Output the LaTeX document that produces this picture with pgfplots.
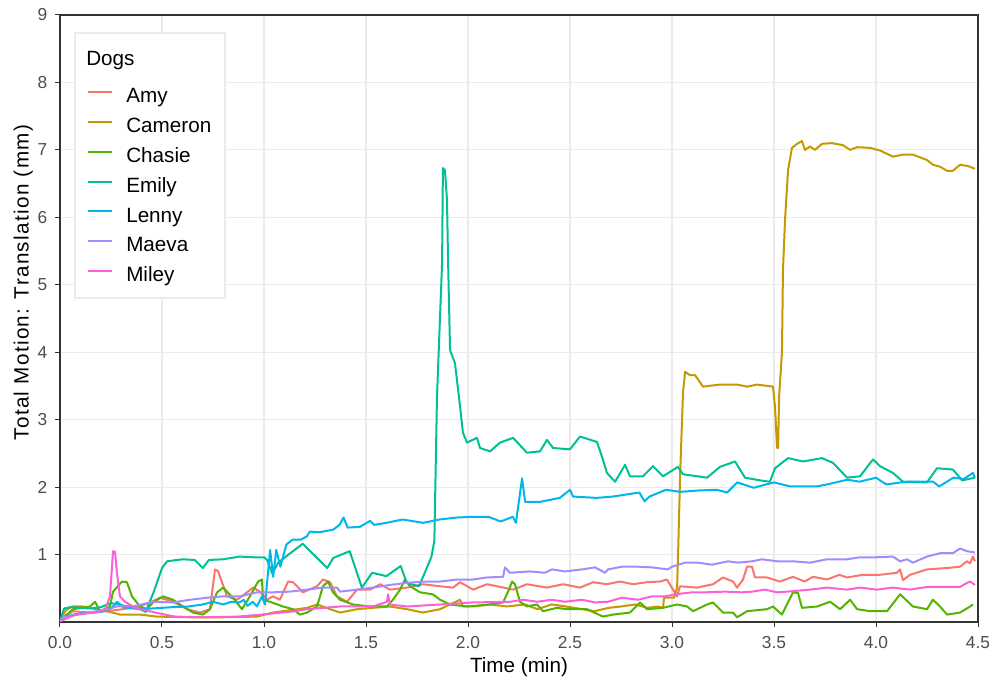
\documentclass[border=0pt]{standalone}
\usepackage{fontspec}
\setmainfont{Liberation Sans}
\newfontfamily\ylabfont[LetterSpace=6.5]{Liberation Sans}
\usepackage{pgfplots}
\pgfplotsset{compat=1.18}

% ggplot hue palette, 7 dogs
\definecolor{amy}{HTML}{F8766D}
\definecolor{cameron}{HTML}{C49A00}
\definecolor{chasie}{HTML}{53B400}
\definecolor{emily}{HTML}{00C094}
\definecolor{lenny}{HTML}{00B6EB}
\definecolor{maeva}{HTML}{A58AFF}
\definecolor{miley}{HTML}{FB61D7}
\definecolor{frame}{HTML}{333333}
\definecolor{gridc}{HTML}{EBEBEB}
\definecolor{tickc}{HTML}{4D4D4D}

\begin{document}
\begin{tikzpicture}
\useasboundingbox (-45pt,-42pt) rectangle (696.75pt,466.5pt);
\begin{axis}[
  at={(0,0)}, anchor=south west,
  scale only axis, width=688.5pt, height=455.25pt,
  xmin=0, xmax=4.5, ymin=0, ymax=9,
  xtick={0,0.5,...,4.5}, ytick={1,...,9},
  /pgf/number format/assume math mode=true,
  xticklabel style={/pgf/number format/fixed, /pgf/number format/fixed zerofill,
    /pgf/number format/precision=1, yshift=-4pt},
  tick label style={font=\fontsize{13}{15}\selectfont, text=tickc},
  yticklabel style={xshift=-2.5pt},
  tick pos=left, tick align=outside, major tick length=3.5pt,
  major tick style={draw=frame, line width=0.75pt},
  axis line style={draw=frame, line width=0.9pt},
  grid=major, major grid style={draw=gridc, line width=0.8pt},
  xlabel={Time (min)},
  ylabel={\ylabfont Total Motion: Translation (mm)},
  label style={font=\fontsize{15.5}{18}\selectfont},
  xlabel style={at={(axis description cs:0.5,-0.0824)}, anchor=base},
  ylabel style={at={(axis description cs:-0.0343,0.559)}, anchor=base},
  every axis plot/.append style={line width=1.5pt, line join=round},
]
\addplot[amy] coordinates {
(0,0.02) (0.03,0.1) (0.064,0.16) (0.147,0.14) (0.23,0.16) (0.309,0.19) (0.392,0.23) (0.441,0.29) (0.49,0.36) (0.554,0.3) (0.623,0.19) (0.686,0.14) (0.735,0.19) (0.76,0.78) (0.775,0.75) (0.794,0.59) (0.819,0.38) (0.868,0.33) (0.917,0.44) (0.946,0.51) (0.98,0.45) (1.015,0.33) (1.044,0.38) (1.078,0.33) (1.118,0.6) (1.142,0.59) (1.191,0.44) (1.26,0.53) (1.289,0.63) (1.324,0.59) (1.358,0.38) (1.407,0.3) (1.456,0.48) (1.52,0.48) (1.569,0.56) (1.618,0.48) (1.701,0.51) (1.779,0.56) (1.863,0.53) (1.926,0.51) (1.961,0.59) (2.025,0.48) (2.093,0.56) (2.142,0.53) (2.221,0.48) (2.289,0.56) (2.387,0.51) (2.466,0.56) (2.549,0.51) (2.613,0.59) (2.681,0.56) (2.745,0.6) (2.809,0.56) (2.877,0.59) (2.941,0.6) (2.975,0.63) (3.025,0.38) (3.039,0.53) (3.123,0.51) (3.201,0.56) (3.25,0.66) (3.299,0.6) (3.319,0.51) (3.348,0.63) (3.368,0.82) (3.392,0.82) (3.407,0.66) (3.466,0.66) (3.529,0.6) (3.593,0.67) (3.65,0.6) (3.691,0.67) (3.76,0.63) (3.82,0.7) (3.858,0.66) (3.936,0.7) (4.02,0.7) (4.103,0.73) (4.118,0.78) (4.132,0.62) (4.167,0.7) (4.25,0.78) (4.348,0.8) (4.412,0.82) (4.446,0.9) (4.461,0.87) (4.475,0.97) (4.485,0.9)
};

\addplot[cameron] coordinates {
(0,0.03) (0.03,0.18) (0.064,0.23) (0.11,0.23) (0.23,0.16) (0.294,0.11) (0.392,0.11) (0.475,0.08) (0.637,0.07) (0.799,0.07) (0.966,0.08) (1.044,0.14) (1.211,0.21) (1.26,0.26) (1.324,0.19) (1.373,0.14) (1.456,0.19) (1.534,0.21) (1.618,0.23) (1.701,0.19) (1.779,0.14) (1.863,0.19) (1.961,0.33) (1.975,0.23) (2.025,0.23) (2.108,0.26) (2.191,0.23) (2.28,0.26) (2.34,0.19) (2.41,0.26) (2.48,0.23) (2.56,0.19) (2.62,0.16) (2.69,0.21) (2.75,0.23) (2.82,0.26) (2.88,0.21) (2.93,0.23) (2.956,0.21) (2.961,0.36) (3.01,0.36) (3.025,0.51) (3.03,1.03) (3.04,2.2) (3.054,3.4) (3.064,3.71) (3.088,3.66) (3.113,3.66) (3.152,3.49) (3.235,3.52) (3.319,3.52) (3.368,3.49) (3.417,3.52) (3.495,3.49) (3.505,3.19) (3.515,2.58) (3.52,2.58) (3.525,3.34) (3.539,4.0) (3.544,5.22) (3.554,5.96) (3.569,6.7) (3.588,7.03) (3.618,7.1) (3.637,7.13) (3.652,7.0) (3.676,7.05) (3.701,7.0) (3.735,7.09) (3.784,7.1) (3.838,7.07) (3.873,7.0) (3.907,7.04) (3.971,7.03) (4.02,6.99) (4.083,6.9) (4.132,6.93) (4.181,6.93) (4.25,6.85) (4.279,6.78) (4.314,6.75) (4.348,6.69) (4.377,6.69) (4.412,6.78) (4.451,6.76) (4.485,6.72)
};

\addplot[chasie] coordinates {
(0,0.02) (0.064,0.19) (0.147,0.23) (0.172,0.3) (0.196,0.16) (0.245,0.23) (0.26,0.45) (0.304,0.6) (0.328,0.59) (0.353,0.38) (0.392,0.23) (0.426,0.19) (0.456,0.29) (0.505,0.38) (0.554,0.33) (0.603,0.23) (0.652,0.14) (0.701,0.11) (0.735,0.19) (0.77,0.44) (0.799,0.51) (0.848,0.36) (0.892,0.19) (0.931,0.38) (0.971,0.6) (0.99,0.63) (0.995,0.33) (1.029,0.3) (1.093,0.23) (1.142,0.19) (1.176,0.11) (1.211,0.14) (1.26,0.23) (1.289,0.53) (1.314,0.6) (1.338,0.44) (1.373,0.33) (1.436,0.26) (1.52,0.23) (1.603,0.23) (1.632,0.33) (1.667,0.48) (1.691,0.63) (1.716,0.53) (1.765,0.44) (1.828,0.41) (1.863,0.33) (1.912,0.26) (1.995,0.23) (2.108,0.26) (2.172,0.29) (2.201,0.48) (2.216,0.6) (2.23,0.56) (2.255,0.3) (2.289,0.23) (2.338,0.26) (2.368,0.16) (2.436,0.21) (2.485,0.19) (2.583,0.19) (2.662,0.08) (2.711,0.11) (2.794,0.14) (2.843,0.29) (2.877,0.19) (2.956,0.21) (3.025,0.26) (3.074,0.23) (3.103,0.16) (3.172,0.26) (3.201,0.29) (3.25,0.14) (3.299,0.14) (3.319,0.07) (3.368,0.16) (3.466,0.19) (3.495,0.23) (3.539,0.11) (3.593,0.44) (3.618,0.43) (3.637,0.21) (3.711,0.23) (3.775,0.3) (3.824,0.19) (3.873,0.33) (3.907,0.19) (3.971,0.16) (4.054,0.16) (4.118,0.41) (4.181,0.23) (4.25,0.19) (4.279,0.33) (4.314,0.23) (4.348,0.11) (4.412,0.14) (4.461,0.23) (4.475,0.26)
};

\addplot[emily] coordinates {
(0,0.02) (0.02,0.2) (0.05,0.22) (0.1,0.21) (0.15,0.2) (0.2,0.22) (0.25,0.28) (0.3,0.25) (0.35,0.22) (0.4,0.18) (0.42,0.15) (0.46,0.45) (0.5,0.8) (0.525,0.9) (0.6,0.93) (0.66,0.92) (0.7,0.8) (0.73,0.92) (0.8,0.93) (0.88,0.97) (0.95,0.96) (1.0,0.96) (1.015,0.92) (1.04,0.72) (1.07,0.88) (1.12,1.0) (1.19,1.16) (1.25,0.98) (1.31,0.8) (1.34,0.95) (1.42,1.05) (1.48,0.51) (1.53,0.73) (1.6,0.68) (1.67,0.83) (1.7,0.58) (1.76,0.53) (1.82,0.96) (1.835,1.2) (1.848,3.34) (1.873,5.33) (1.877,6.73) (1.887,6.7) (1.897,6.26) (1.902,5.4) (1.912,4.03) (1.936,3.84) (1.961,3.2) (1.975,2.81) (1.995,2.66) (2.044,2.73) (2.059,2.58) (2.108,2.53) (2.157,2.66) (2.221,2.73) (2.289,2.51) (2.353,2.53) (2.387,2.7) (2.417,2.58) (2.5,2.56) (2.549,2.75) (2.632,2.67) (2.657,2.45) (2.681,2.21) (2.721,2.08) (2.77,2.33) (2.794,2.16) (2.858,2.16) (2.907,2.31) (2.956,2.16) (3.029,2.3) (3.054,2.19) (3.172,2.14) (3.235,2.3) (3.309,2.38) (3.358,2.14) (3.431,2.1) (3.48,2.08) (3.505,2.28) (3.569,2.43) (3.642,2.38) (3.735,2.43) (3.789,2.36) (3.858,2.14) (3.922,2.16) (3.985,2.41) (4.02,2.31) (4.083,2.21) (4.132,2.08) (4.25,2.07) (4.299,2.28) (4.377,2.26) (4.422,2.1) (4.485,2.14)
};

\addplot[lenny] coordinates {
(0,0.02) (0.03,0.08) (0.08,0.12) (0.15,0.14) (0.2,0.15) (0.25,0.2) (0.28,0.3) (0.31,0.22) (0.36,0.2) (0.45,0.2) (0.55,0.22) (0.63,0.23) (0.7,0.26) (0.75,0.3) (0.8,0.26) (0.84,0.3) (0.88,0.29) (0.9,0.33) (0.92,0.24) (0.945,0.3) (0.965,0.23) (0.99,0.38) (1.005,0.26) (1.03,1.07) (1.045,0.67) (1.06,1.07) (1.08,0.82) (1.11,1.15) (1.14,1.22) (1.18,1.22) (1.21,1.27) (1.225,1.34) (1.27,1.33) (1.34,1.37) (1.37,1.44) (1.39,1.55) (1.41,1.4) (1.47,1.41) (1.52,1.5) (1.54,1.44) (1.6,1.47) (1.68,1.52) (1.78,1.47) (1.86,1.52) (1.95,1.55) (2.03,1.56) (2.1,1.56) (2.16,1.49) (2.22,1.56) (2.235,1.47) (2.265,2.13) (2.28,1.78) (2.35,1.78) (2.45,1.84) (2.5,1.96) (2.515,1.86) (2.63,1.84) (2.71,1.86) (2.84,1.92) (2.865,1.79) (2.89,1.86) (2.97,1.96) (3.04,1.93) (3.13,1.95) (3.22,1.96) (3.27,1.92) (3.32,2.07) (3.4,1.99) (3.5,2.07) (3.58,2.01) (3.71,2.01) (3.76,2.04) (3.86,2.11) (3.92,2.08) (4.0,2.14) (4.05,2.04) (4.15,2.08) (4.28,2.08) (4.31,2.01) (4.38,2.14) (4.43,2.12) (4.475,2.21) (4.485,2.14)
};

\addplot[maeva] coordinates {
(0,0.01) (0.015,0.07) (0.147,0.14) (0.23,0.19) (0.279,0.23) (0.358,0.23) (0.456,0.3) (0.554,0.29) (0.637,0.33) (0.721,0.36) (0.799,0.38) (0.882,0.38) (0.966,0.44) (1.044,0.44) (1.127,0.45) (1.211,0.48) (1.289,0.51) (1.358,0.51) (1.373,0.45) (1.456,0.48) (1.534,0.51) (1.618,0.55) (1.701,0.58) (1.779,0.6) (1.863,0.6) (1.946,0.63) (2.025,0.63) (2.093,0.66) (2.172,0.67) (2.181,0.81) (2.206,0.73) (2.304,0.75) (2.377,0.73) (2.412,0.78) (2.475,0.75) (2.559,0.78) (2.623,0.81) (2.672,0.73) (2.686,0.78) (2.755,0.82) (2.833,0.82) (2.902,0.81) (2.98,0.78) (3.0,0.82) (3.064,0.88) (3.127,0.88) (3.196,0.85) (3.275,0.9) (3.324,0.88) (3.392,0.9) (3.441,0.93) (3.515,0.9) (3.593,0.9) (3.676,0.88) (3.76,0.93) (3.858,0.93) (3.922,0.96) (4.005,0.96) (4.083,0.97) (4.118,0.9) (4.152,0.93) (4.181,0.88) (4.25,0.97) (4.314,1.02) (4.377,1.02) (4.412,1.09) (4.446,1.05) (4.485,1.03)
};

\addplot[miley] coordinates {
(0,0.01) (0.074,0.11) (0.172,0.14) (0.221,0.18) (0.245,0.38) (0.26,1.05) (0.27,1.04) (0.279,0.73) (0.294,0.38) (0.319,0.3) (0.368,0.21) (0.466,0.14) (0.564,0.08) (0.711,0.07) (0.873,0.08) (0.99,0.11) (1.152,0.16) (1.211,0.19) (1.373,0.23) (1.534,0.23) (1.603,0.3) (1.608,0.41) (1.618,0.26) (1.701,0.23) (1.863,0.26) (2.025,0.29) (2.206,0.3) (2.27,0.33) (2.34,0.3) (2.41,0.33) (2.475,0.3) (2.559,0.33) (2.623,0.29) (2.686,0.3) (2.755,0.36) (2.833,0.33) (2.902,0.38) (2.966,0.38) (3.015,0.41) (3.098,0.44) (3.162,0.44) (3.26,0.45) (3.343,0.44) (3.392,0.45) (3.456,0.48) (3.515,0.44) (3.564,0.45) (3.676,0.48) (3.76,0.51) (3.858,0.48) (3.922,0.51) (4.005,0.48) (4.083,0.51) (4.167,0.48) (4.25,0.52) (4.348,0.52) (4.412,0.52) (4.446,0.58) (4.461,0.6) (4.485,0.55)
};
\end{axis}

% legend box, set by hand (key spacing of the original)
\draw[gridc, line width=0.8pt, fill=white] (11.25pt,243pt) rectangle (112.5pt+11.25pt,441.75pt);
\node[anchor=base west, inner sep=0pt, font=\fontsize{15.5}{18}\selectfont] at (19.5pt,417pt) {Dogs};
\foreach \c/\n [count=\i from 0] in {amy/Amy, cameron/Cameron, chasie/Chasie, emily/Emily, lenny/Lenny, maeva/Maeva, miley/Miley} {
  \pgfmathsetlengthmacro\yb{389.5pt-22.4pt*\i}
  \draw[\c, line width=1.5pt] (21pt,\yb+8pt) -- (39pt,\yb+8pt);
  \node[anchor=base west, inner sep=0pt, font=\fontsize{15.5}{18}\selectfont] at (49.5pt,\yb) {\n};
}
\end{tikzpicture}
\end{document}
